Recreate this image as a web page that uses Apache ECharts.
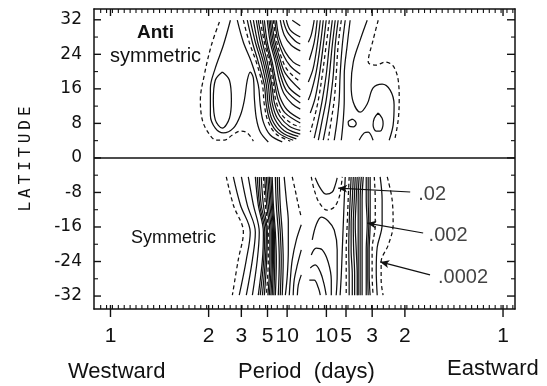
<!DOCTYPE html>
<html><head><meta charset="utf-8">
<script src="https://cdn.jsdelivr.net/npm/echarts@6/dist/echarts.min.js"></script>
<style>html,body{margin:0;padding:0;background:#fff}#c{width:547px;height:386px}</style>
</head><body><div id="c"></div>
<script>
// ---- axis definitions ----
const periodSigned = [-1, -2, -3, -5, -10, 10, 5, 3, 2, 1];
const periodLabels = ['1', '2', '3', '5', '10', '10', '5', '3', '2', '1'];
const latTicks = [-32, -24, -16, -8, 0, 8, 16, 24, 32];
const latMinor = [-28, -20, -12, -4, 4, 12, 20, 28];
const freqMin = -1.084, freqMax = 1.061, latMin = -35, latMax = 34.5;

// ---- contour lines [frequency (cpd, eastward +), latitude] ----
// Anti-symmetric, westward
const tlSolid = [
  [[-0.389,31.9],[-0.425,26.1],[-0.466,20.8],[-0.491,16.2],[-0.491,9.9],[-0.466,6.9],[-0.425,5.8],[-0.374,6.9],[-0.338,9.9],[-0.318,13.4],[-0.303,18.0],[-0.288,19.9],[-0.272,18.5],[-0.267,13.9],[-0.257,9.2],[-0.237,6.0],[-0.196,3.7]],
  [[-0.430,19.9],[-0.394,18.0],[-0.384,13.4],[-0.394,9.2],[-0.430,6.9],[-0.466,8.8],[-0.476,13.4],[-0.466,18.0],[-0.430,19.9]],
  [[-0.354,31.9],[-0.323,26.8],[-0.282,22.2],[-0.247,16.9],[-0.237,12.3],[-0.221,8.3],[-0.186,5.3],[-0.125,3.7]],
  [[-0.303,31.9],[-0.277,26.8],[-0.247,22.2],[-0.216,16.9],[-0.206,12.3],[-0.186,8.5],[-0.145,5.8],[-0.069,4.1]],
  [[-0.288,31.9],[-0.262,26.8],[-0.232,22.2],[-0.206,16.9],[-0.196,12.3],[-0.176,8.8],[-0.130,6.0],[-0.053,4.4]],
  [[-0.272,31.9],[-0.250,26.8],[-0.221,22.2],[-0.196,16.9],[-0.186,12.5],[-0.163,9.0],[-0.115,6.3],[-0.043,5.0]],
  [[-0.257,31.9],[-0.237,26.8],[-0.211,22.2],[-0.186,16.9],[-0.176,12.7],[-0.150,9.2],[-0.099,6.7],[-0.033,5.5]],
  [[-0.247,31.9],[-0.226,26.8],[-0.201,22.2],[-0.178,16.9],[-0.165,12.8],[-0.137,9.6],[-0.087,7.3],[-0.033,6.4]],
  [[-0.226,31.9],[-0.209,26.8],[-0.183,22.2],[-0.163,17.1],[-0.145,13.4],[-0.112,10.5],[-0.033,8.1]],
  [[-0.216,31.9],[-0.201,26.8],[-0.176,22.2],[-0.155,17.4],[-0.135,13.9],[-0.099,11.1],[-0.033,9.0]],
  [[-0.201,31.9],[-0.186,26.8],[-0.160,22.2],[-0.140,18.0],[-0.115,14.8],[-0.074,12.5],[-0.033,11.3]],
  [[-0.193,31.9],[-0.178,26.8],[-0.153,22.5],[-0.130,18.5],[-0.102,15.5],[-0.033,12.7]],
  [[-0.186,31.9],[-0.170,26.8],[-0.145,22.7],[-0.120,19.0],[-0.089,16.2],[-0.033,14.1]],
  [[-0.178,31.9],[-0.163,27.1],[-0.137,23.0],[-0.109,19.6],[-0.033,15.8]],
  [[-0.163,31.9],[-0.148,27.5],[-0.120,23.9],[-0.084,21.3],[-0.033,19.4]],
  [[-0.155,31.9],[-0.140,27.8],[-0.109,24.5],[-0.069,22.2],[-0.033,21.3]],
  [[-0.135,31.9],[-0.115,28.5],[-0.079,26.1],[-0.033,24.8]],
  [[-0.120,31.9],[-0.099,29.2],[-0.059,27.1],[-0.033,26.4]],
  [[-0.104,31.9],[-0.084,29.6],[-0.033,28.0]],
  [[-0.074,31.9],[-0.033,30.6]]
];
const tlDashed = [
  [[-0.445,31.5],[-0.486,26.1],[-0.522,19.2],[-0.542,13.4],[-0.532,8.8],[-0.501,5.8],[-0.461,4.1],[-0.420,4.1],[-0.379,5.3],[-0.338,6.2],[-0.303,5.8],[-0.272,3.9]],
  [[-0.323,31.9],[-0.293,26.8],[-0.257,22.2],[-0.226,16.9],[-0.216,12.3],[-0.196,8.3],[-0.155,5.5],[-0.084,3.9]],
  [[-0.237,31.9],[-0.216,26.8],[-0.191,22.2],[-0.170,16.9],[-0.155,12.9],[-0.125,9.9],[-0.074,7.9],[-0.033,7.2]],
  [[-0.170,31.9],[-0.155,27.3],[-0.130,23.4],[-0.099,20.4],[-0.033,17.6]]
];
// Anti-symmetric, eastward
const trSolid = [
  [[0.308,31.9],[0.272,27.3],[0.237,22.2],[0.226,16.9],[0.237,12.9],[0.272,10.6],[0.308,12.5],[0.338,16.2],[0.384,17.1],[0.425,15.7],[0.445,12.3],[0.440,7.6],[0.420,4.1]],
  [[0.364,10.4],[0.384,9.2],[0.389,7.9],[0.374,6.2],[0.354,6.2],[0.338,7.6],[0.344,9.2],[0.364,10.4]],
  [[0.232,9.0],[0.247,8.5],[0.252,7.9],[0.237,7.2],[0.216,7.4],[0.211,8.3],[0.232,9.0]],
  [[0.267,4.1],[0.293,5.8],[0.313,6.0],[0.338,4.1]],
  [[0.221,31.9],[0.206,26.1],[0.191,19.2],[0.191,13.4],[0.186,8.8],[0.176,4.1]],
  [[0.196,31.9],[0.181,26.1],[0.170,19.2],[0.165,13.4],[0.155,8.8],[0.140,4.1]],
  [[0.160,31.9],[0.145,26.1],[0.135,19.2],[0.120,13.4],[0.104,8.8],[0.084,4.1]],
  [[0.145,31.9],[0.130,26.1],[0.115,19.2],[0.099,13.4],[0.079,8.8],[0.059,4.1]],
  [[0.130,31.9],[0.115,26.1],[0.099,19.2],[0.079,13.4],[0.059,8.8],[0.038,4.6]],
  [[0.099,31.9],[0.084,26.1],[0.064,19.2],[0.043,13.9],[0.018,10.4]],
  [[0.084,31.9],[0.069,26.1],[0.048,19.9],[0.023,15.3],[0.008,13.4]],
  [[0.069,31.9],[0.053,26.1],[0.033,20.8],[0.008,17.6]],
  [[0.053,31.9],[0.038,26.8],[0.013,22.7]],
  [[0.038,31.9],[0.023,28.5],[0.008,26.8]]
];
const trDashed = [
  [[0.364,31.9],[0.338,27.3],[0.313,22.2],[0.354,21.5],[0.399,22.2],[0.440,21.3],[0.466,18.0],[0.471,13.4],[0.466,8.8],[0.450,4.6]],
  [[0.176,31.9],[0.160,26.1],[0.150,19.2],[0.140,13.4],[0.125,8.8],[0.109,4.1]],
  [[0.115,31.9],[0.099,26.1],[0.079,19.2],[0.059,13.4],[0.038,9.2],[0.018,6.0]]
];
// Symmetric, westward
const blSolid = [
  [[-0.374,-4.4],[-0.338,-10.9],[-0.288,-17.2],[-0.308,-23.6],[-0.344,-31.8]],
  [[-0.333,-4.4],[-0.303,-10.9],[-0.262,-17.2],[-0.277,-23.6],[-0.308,-31.8]],
  [[-0.298,-4.4],[-0.272,-10.9],[-0.242,-17.2],[-0.252,-23.6],[-0.277,-31.8]],
  [[-0.262,-4.4],[-0.247,-10.9],[-0.221,-17.2],[-0.226,-23.6],[-0.247,-31.8]],
  [[-0.252,-4.4],[-0.240,-10.9],[-0.214,-17.2],[-0.219,-23.6],[-0.237,-31.8]],
  [[-0.242,-4.4],[-0.232,-10.9],[-0.206,-17.2],[-0.211,-23.6],[-0.226,-31.8]],
  [[-0.232,-4.4],[-0.221,-10.9],[-0.201,-17.2],[-0.204,-23.6],[-0.216,-31.8]],
  [[-0.214,-4.4],[-0.204,-10.9],[-0.188,-17.2],[-0.188,-23.6],[-0.198,-31.8]],
  [[-0.206,-4.4],[-0.196,-10.9],[-0.181,-17.2],[-0.181,-23.6],[-0.191,-31.8]],
  [[-0.198,-4.4],[-0.188,-10.9],[-0.175,-17.2],[-0.175,-23.6],[-0.183,-31.8]],
  [[-0.191,-4.4],[-0.181,-10.9],[-0.170,-17.2],[-0.170,-23.6],[-0.176,-31.8]],
  [[-0.183,-4.4],[-0.175,-10.9],[-0.165,-17.2],[-0.163,-23.6],[-0.168,-31.8]],
  [[-0.176,-4.4],[-0.170,-10.9],[-0.160,-17.2],[-0.155,-23.6],[-0.160,-31.8]],
  [[-0.160,-4.4],[-0.155,-10.9],[-0.145,-17.2],[-0.140,-23.6],[-0.145,-31.8]],
  [[-0.150,-4.4],[-0.145,-10.9],[-0.135,-17.2],[-0.130,-23.6],[-0.135,-31.8]],
  [[-0.140,-4.4],[-0.135,-10.9],[-0.125,-17.2],[-0.120,-23.6],[-0.125,-31.8]],
  [[-0.115,-4.4],[-0.104,-9.7],[-0.094,-14.8],[-0.094,-21.3],[-0.099,-27.1],[-0.109,-31.8]],
  [[-0.028,-15.5],[-0.053,-19.0],[-0.074,-23.6],[-0.084,-28.3],[-0.089,-31.8]],
  [[-0.028,-21.3],[-0.048,-24.8],[-0.064,-28.3],[-0.069,-31.8]],
  [[-0.028,-27.1],[-0.043,-29.4],[-0.048,-31.8]]
];
const blDashed = [
  [[-0.410,-4.4],[-0.374,-10.9],[-0.323,-17.2],[-0.349,-23.6],[-0.379,-31.8]],
  [[-0.221,-4.4],[-0.211,-10.9],[-0.196,-17.2],[-0.196,-23.6],[-0.206,-31.8]],
  [[-0.074,-4.4],[-0.059,-7.4],[-0.043,-10.9],[-0.028,-13.7]]
];
// Symmetric, eastward
const brSolid = [
  [[0.043,-4.6],[0.069,-7.0],[0.099,-8.4],[0.130,-7.9],[0.145,-6.3],[0.155,-4.6]],
  [[0.028,-19.0],[0.048,-15.5],[0.074,-13.7],[0.109,-14.6],[0.140,-16.7],[0.155,-21.3],[0.155,-27.1],[0.150,-31.8]],
  [[0.023,-22.5],[0.048,-20.9],[0.079,-21.3],[0.109,-24.1],[0.125,-28.3],[0.125,-31.8]],
  [[0.018,-25.5],[0.043,-24.8],[0.069,-26.4],[0.089,-29.4],[0.099,-31.8]],
  [[0.013,-28.3],[0.038,-28.3],[0.059,-30.1],[0.069,-31.8]],
  [[0.196,-4.4],[0.191,-9.7],[0.186,-15.5],[0.181,-21.3],[0.176,-27.1],[0.170,-31.8]],
  [[0.226,-4.4],[0.221,-9.7],[0.216,-15.5],[0.214,-21.3],[0.216,-27.1],[0.216,-31.8]],
  [[0.237,-4.4],[0.232,-9.7],[0.226,-15.5],[0.226,-21.3],[0.232,-27.1],[0.232,-31.8]],
  [[0.247,-4.4],[0.242,-9.7],[0.237,-15.5],[0.239,-21.3],[0.244,-27.1],[0.244,-31.8]],
  [[0.257,-4.4],[0.252,-9.7],[0.247,-15.5],[0.252,-21.3],[0.257,-27.1],[0.257,-31.8]],
  [[0.267,-4.4],[0.262,-9.7],[0.262,-15.5],[0.262,-21.3],[0.262,-27.1],[0.262,-31.8]],
  [[0.278,-4.4],[0.272,-9.7],[0.272,-15.5],[0.272,-21.3],[0.272,-27.1],[0.272,-31.8]],
  [[0.288,-4.4],[0.282,-9.7],[0.282,-15.5],[0.282,-21.3],[0.282,-27.1],[0.282,-31.8]],
  [[0.303,-4.4],[0.303,-9.7],[0.308,-15.2],[0.303,-21.3],[0.303,-27.1],[0.303,-31.8]],
  [[0.313,-4.4],[0.313,-9.7],[0.316,-15.4],[0.311,-21.3],[0.311,-27.1],[0.313,-31.8]],
  [[0.323,-4.4],[0.323,-9.7],[0.323,-15.5],[0.318,-21.3],[0.318,-27.1],[0.323,-31.8]],
  [[0.374,-4.4],[0.384,-9.7],[0.384,-15.5],[0.359,-20.7],[0.354,-26.0],[0.359,-31.8]]
];
const brDashed = [
  [[0.023,-4.4],[0.038,-7.4],[0.064,-10.4],[0.104,-12.1],[0.140,-11.4],[0.165,-9.1],[0.176,-6.3],[0.181,-4.4]],
  [[0.216,-4.4],[0.211,-9.7],[0.206,-15.5],[0.201,-21.3],[0.201,-27.1],[0.201,-31.8]],
  [[0.344,-4.4],[0.349,-9.7],[0.349,-15.5],[0.333,-21.3],[0.333,-27.1],[0.338,-31.8]],
  [[0.410,-4.4],[0.435,-9.7],[0.440,-15.5],[0.415,-20.2],[0.379,-24.1],[0.379,-28.3],[0.389,-31.8]]
];

// ---- annotations ----
const levelLabels = ['.02', '.002', '.0002'];
const levelLabelAt = [[0.639, -8.4], [0.720, -17.9], [0.796, -27.8]];
const arrowFrom = [[0.527, -7.9], [0.593, -17.4], [0.628, -27.1]];
const arrowTo = [[0.160, -7.0], [0.308, -15.1], [0.374, -24.1]];

// ---- build ----
const freqTicks = periodSigned.map(p => 1 / p);
const minorFreq = [];
for (let k = -40; k <= 40; k++) { const v = k * 0.03; if (v > freqMin + 0.005 && v < freqMax - 0.005) minorFreq.push(+v.toFixed(4)); }
const tickLabel = v => { for (let i = 0; i < freqTicks.length; i++) if (Math.abs(freqTicks[i] - v) < 1e-6) return periodLabels[i]; return ''; };

const black = '#111';
const series = [];
function addLines(list, dashed) {
  list.forEach(pts => series.push({
    type: 'line', data: pts, smooth: 0.35, showSymbol: false, silent: true,
    xAxisIndex: 0, yAxisIndex: 0,
    lineStyle: { color: black, width: 1.25, type: dashed ? [4, 3] : 'solid' }
  }));
}
[[tlSolid, false], [tlDashed, true], [trSolid, false], [trDashed, true],
 [blSolid, false], [blDashed, true], [brSolid, false], [brDashed, true]].forEach(a => addLines(a[0], a[1]));

// tick marks: [value, side(0 bottom,1 top,2 left,3 right), major(1)/minor(0)]
const tickItems = [];
minorFreq.forEach(v => { tickItems.push([v, 0, 0]); tickItems.push([v, 1, 0]); });
freqTicks.forEach(v => { tickItems.push([v, 0, 1]); tickItems.push([v, 1, 1]); });
latTicks.forEach(v => { tickItems.push([v, 2, 1]); tickItems.push([v, 3, 1]); });
latMinor.forEach(v => { tickItems.push([v, 2, 0]); tickItems.push([v, 3, 0]); });
series.push({
  type: 'custom', xAxisIndex: 0, yAxisIndex: 0, silent: true, clip: false,
  data: tickItems,
  renderItem: (params, api) => {
    const v = api.value(0), side = api.value(1), major = api.value(2);
    let a, b;
    if (side === 0) { const p = api.coord([v, latMin]); a = [p[0], p[1] + (major ? 8 : 0)]; b = [p[0], p[1] - 4]; }
    else if (side === 1) { const p = api.coord([v, latMax]); a = p; b = [p[0], p[1] + (major ? 7 : 4)]; }
    else if (side === 2) { const p = api.coord([freqMin, v]); a = p; b = [p[0] + (major ? 7 : 4), p[1]]; }
    else { const p = api.coord([freqMax, v]); a = p; b = [p[0] - (major ? 8 : 4), p[1]]; }
    return { type: 'line', shape: { x1: a[0], y1: a[1], x2: b[0], y2: b[1] }, style: { stroke: black, lineWidth: major ? 1.4 : 1.1 } };
  }
});

series.push({
  type: 'scatter', data: levelLabelAt.map((p, i) => ({ value: p, name: levelLabels[i] })),
  symbolSize: 0, xAxisIndex: 0, yAxisIndex: 0, silent: true,
  label: { show: true, position: 'inside', formatter: p => p.name, color: black, fontSize: 20, fontFamily: 'Liberation Sans' },
  markLine: {
    silent: true, symbol: ['none', 'arrow'], symbolSize: [6, 9],
    lineStyle: { color: black, width: 1.2, type: 'solid' }, label: { show: false },
    data: arrowFrom.map((p, i) => [{ coord: p }, { coord: arrowTo[i] }])
  }
});
series.push({
  type: 'line', data: [], xAxisIndex: 0, yAxisIndex: 0,
  markLine: { silent: true, symbol: 'none', label: { show: false }, lineStyle: { color: black, width: 1.6, type: 'solid' }, data: [{ yAxis: 0 }] }
});

const axisLine = { show: true, onZero: false, lineStyle: { color: black, width: 1.5 } };
const baseX = { type: 'value', min: freqMin, max: freqMax, splitLine: { show: false }, axisTick: { show: false } };
const baseY = { type: 'value', min: latMin, max: latMax, splitLine: { show: false }, axisTick: { show: false } };

const option = {
  animation: false,
  backgroundColor: '#fff',
  grid: { left: 94, right: 32, top: 9, bottom: 77 },
  xAxis: [
    Object.assign({}, baseX, { position: 'bottom', axisLine,
      axisLabel: { show: true, customValues: freqTicks, formatter: tickLabel, margin: 17, color: black, fontSize: 21, fontFamily: 'Liberation Sans' } }),
    Object.assign({}, baseX, { position: 'top', axisLine, axisLabel: { show: false } })
  ],
  yAxis: [
    Object.assign({}, baseY, { position: 'left', axisLine,
      axisLabel: { show: true, customValues: latTicks, margin: 12, color: black, fontSize: 17, fontFamily: 'DejaVu Sans' },
      name: 'L{s| }A{s| }T{s| }I{s| }T{s| }U{s| }D{s| }E', nameLocation: 'middle', nameRotate: 90, nameGap: 60,
      nameTextStyle: { color: black, fontSize: 16, fontFamily: 'DejaVu Sans Mono', rich: { s: { width: 4, fontSize: 16 } } } }),
    Object.assign({}, baseY, { position: 'right', axisLine, axisLabel: { show: false } })
  ],
  graphic: [
    { type: 'text', left: 137, top: 23, style: { text: 'Anti', fill: black, font: 'bold 19px "Liberation Sans"' } },
    { type: 'text', left: 110, top: 46, style: { text: 'symmetric', fill: black, font: '20px "Liberation Sans"' } },
    { type: 'text', left: 131, top: 229, style: { text: 'Symmetric', fill: black, font: '18px "Liberation Sans"' } },
    { type: 'text', left: 68, top: 361, style: { text: 'Westward', fill: black, font: '22px "Liberation Sans"' } },
    { type: 'text', left: 238, top: 361, style: { text: 'Period  (days)', fill: black, font: '22px "Liberation Sans"' } },
    { type: 'text', left: 447, top: 358, style: { text: 'Eastward', fill: black, font: '22px "Liberation Sans"' } }
  ],
  series
};
const chart = echarts.init(document.getElementById('c'), null, { renderer: 'canvas' });
chart.setOption(option);
</script></body></html>
